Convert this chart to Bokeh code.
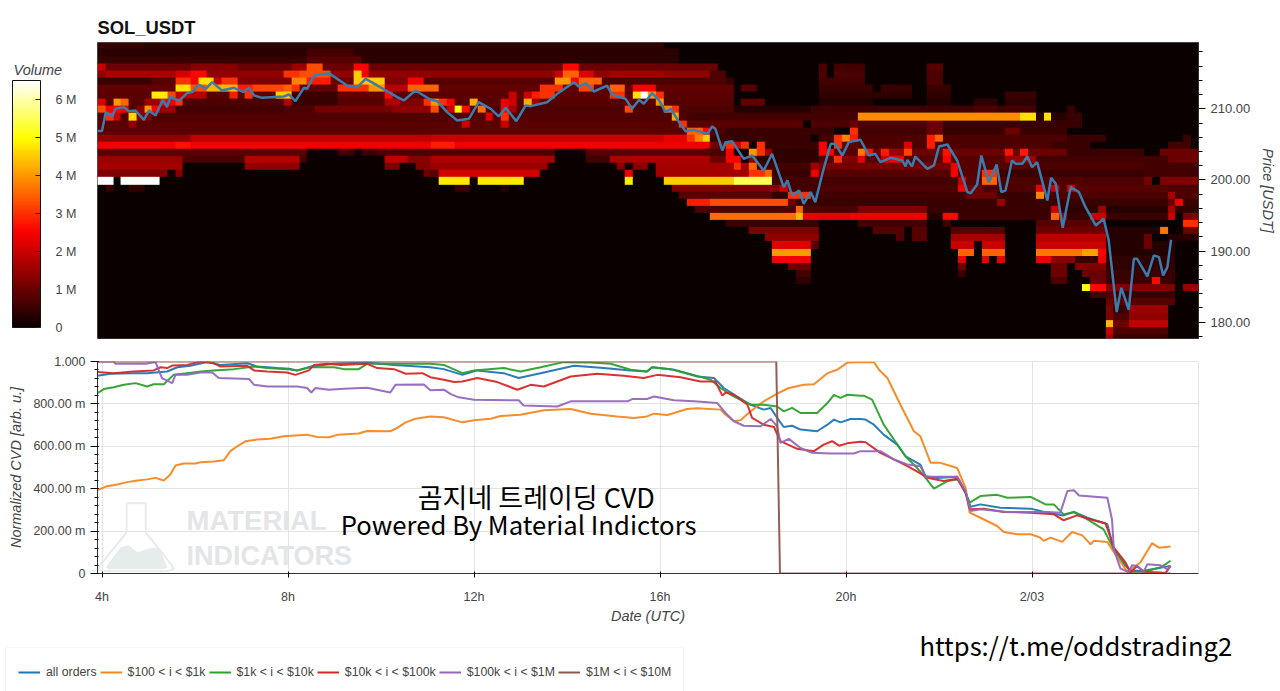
from bokeh.plotting import figure
from bokeh.layouts import column, row
from bokeh.models import (LinearColorMapper, ColorBar, FixedTicker, Legend, LegendItem,
                          Label, NumeralTickFormatter, Range1d)
from bokeh.embed import file_html
from bokeh.resources import INLINE
import numpy as np

title_text = "SOL_USDT"
series_names = ["all orders", "$100 < i < $1k", "$1k < i < $10k", "$10k < i < $100k", "$100k < i < $1M", "$1M < i < $10M"]
series_colors = ["#1f77b4", "#f5871f", "#2ca02c", "#d62728", "#9467bd", "#8c564b"]

# Heat map: 10 minute columns, $1 rows counted from the top. Each entry: (first col, end col, volume in M)
heat_rows = {
 0: [(0,73,.4),(0,6,.5)],
 1: [(0,75,.35),(27,33,.6)],
 2: [(0,75,.35),(0,27,.5),(27,34,.8)],
 3: [(0,80,1.0),(0,1,2.0),(12,18,1.3),(25,27,1.5),(27,29,3.3),(33,35,2.5),(60,62,2.6),(93,94,.7),(95,99,.6),(107,109,.8)],
 4: [(0,79,1.4),(79,81,.7),(1,10,1.7),(10,12,2.1),(12,14,2.6),(24,26,3),(26,30,3.3),(33,34,4.5),(34,35,2.5),(59,60,2),(60,62,3.5),(62,64,2.2),(66,73,1.6),(93,94,.7),(95,99,.7),(107,109,.7)],
 5: [(0,7,.5),(7,10,.8),(10,12,3),(12,13,2.5),(13,15,4.7),(15,16,2),(16,18,3),(18,25,1.2),(25,27,3.8),(27,30,2.8),(30,33,1),(33,37,4.5),(37,40,1.2),(40,42,2.5),(42,59,.8),(59,61,4),(61,62,2.5),(62,65,3.5),(65,81,.7),(81,82,.5),(93,99,.6),(107,109,.7)],
 6: [(0,82,.9),(10,12,4.7),(12,14,3.3),(14,18,4.3),(18,20,2.8),(20,24,3.2),(24,25,3.5),(25,26,3),(31,35,3),(35,37,4),(37,40,1.8),(40,44,3.5),(57,60,3),(62,64,3.2),(66,68,3.5),(69,72,2.5),(83,85,.8),(93,100,.5),(101,105,.5),(107,110,.5)],
 7: [(0,82,.85),(7,9,4.8),(9,10,3.2),(10,14,1.8),(14,17,.8),(17,18,2.8),(19,20,3),(23,25,4.5),(25,31,.5),(31,37,.9),(37,38,2.6),(53,54,2),(55,56,2),(56,57,2.8),(57,59,3),(66,68,3),(69,70,4.7),(70,71,6.5),(71,72,4),(72,73,3),(93,105,.4),(107,110,.4),(117,121,.5)],
 8: [(0,82,.8),(0,1,2.2),(2,3,4),(3,4,3.5),(6,8,1.5),(8,10,2.4),(10,11,3),(11,24,.7),(24,25,1.8),(25,31,.5),(37,39,1.7),(39,43,1.2),(42,43,3),(43,44,4),(44,45,3),(45,46,2.5),(48,49,4.2),(52,53,2.3),(53,54,2),(55,56,4.2),(56,57,1.6),(68,69,1),(72,73,4),(83,86,.9),(93,100,.3),(107,110,.3),(113,116,.4),(117,121,.4)],
 9: [(0,82,.7),(0,1,3.3),(1,4,2.5),(5,6,1.3),(6,7,4),(7,8,2.5),(8,10,1.5),(10,24,.6),(28,38,1.1),(38,43,1.4),(43,44,3.3),(45,46,2),(46,47,5),(47,48,2.6),(49,50,3.6),(52,53,2.4),(53,54,1.6),(68,69,3.2),(73,74,3.8),(74,75,3),(82,92,.3),(92,121,.55),(113,116,.7),(117,121,.6),(125,126,.5)],
 10: [(0,92,.75),(1,2,3),(2,3,2),(4,5,4.6),(5,7,1.3),(50,51,2.2),(52,53,3),(74,75,4.2),(76,92,.6),(92,98,.6),(98,119,3.9),(119,121,4.7),(121,122,.4),(122,123,4.7),(123,125,.3),(125,127,.5)],
 11: [(0,91,.85),(4,5,1.4),(47,48,2),(52,53,2),(75,76,3),(92,100,.7),(97,98,1),(98,107,.7),(107,109,1),(109,125,.5),(125,127,.5)],
 12: [(0,81,.85),(76,78,3.5),(78,79,2.6),(79,81,.7),(81,95,.5),(97,98,3),(98,107,.6),(107,109,1),(109,125,.5),(117,119,1)],
 13: [(0,12,1.4),(12,43,1.9),(43,73,2),(73,76,2.3),(76,77,3),(77,78,3.8),(78,79,4.5),(79,92,.5),(93,95,.6),(95,96,3),(96,97,3.8),(97,98,2.8),(98,107,.7),(107,108,2.8),(108,109,3.5),(109,125,.7),(125,130,.5),(140,141,.5)],
 14: [(0,79,2.4),(10,12,2.7),(43,46,2.8),(79,81,1),(81,82,3),(82,83,2),(83,84,3),(85,86,3),(86,93,.5),(93,94,2.5),(95,96,3),(96,98,.9),(98,125,.7),(104,105,2.2),(107,108,2.8),(123,128,.5),(138,141,.6)],
 15: [(0,27,.85),(27,31,.1),(31,33,.6),(33,34,.1),(34,36,.5),(36,59,.7),(59,63,.1),(63,79,.8),(79,81,.7),(81,82,2.5),(84,85,4),(85,86,3),(86,87,1.5),(87,93,.4),(93,95,2.5),(95,98,.8),(98,99,3.7),(99,100,2.7),(100,125,1),(101,102,2.8),(102,104,1.5),(104,105,3.2),(109,110,2.7),(117,118,2.7),(119,120,2.8),(125,135,.5),(137,142,1)],
 16: [(0,11,1.5),(11,19,.7),(19,26,1.8),(26,27,.6),(37,40,1.9),(40,43,1.3),(43,59,1.7),(63,66,.6),(66,79,1.7),(79,81,1),(81,83,2.5),(84,85,1.4),(85,93,.4),(93,95,.8),(95,96,3),(96,98,1.2),(98,99,2.3),(99,101,.8),(101,102,2),(102,104,2.4),(104,117,.8),(109,110,2.5),(117,121,1.5),(121,138,.6),(138,142,1)],
 17: [(0,11,1.6),(19,26,1.4),(37,39,1.2),(41,43,1.3),(43,58,1.5),(67,68,1.3),(69,71,1.3),(72,84,1.6),(82,83,3),(84,85,3.5),(85,92,.6),(92,93,1.6),(93,110,1.1),(110,111,2.4),(111,121,.8),(121,135,.7),(135,142,.6)],
 18: [(0,9,1.2),(10,11,1.3),(42,43,1),(43,44,.8),(44,57,2.1),(68,69,2.3),(72,84,1.6),(84,86,3),(86,87,3.5),(87,92,.5),(92,93,2.4),(93,110,.8),(110,111,2.5),(111,114,.8),(114,116,3),(116,135,.5),(135,142,.6)],
 19: [(0,2,6.5),(3,8,6.5),(44,48,4.8),(49,55,4.8),(68,69,4.8),(73,82,4.5),(82,87,5.5),(87,111,.6),(111,112,2),(112,114,.8),(114,116,3.5),(116,135,.7),(126,127,.8),(135,136,1.1),(137,142,1.2)],
 20: [(1,2,.5),(4,6,.4),(46,48,.5),(52,53,.3),(74,88,1.2),(88,89,2),(89,93,.6),(93,111,.7),(111,112,2.4),(112,114,1),(114,121,.7),(121,122,2.3),(122,123,.7),(123,124,2),(124,125,.7),(125,126,2),(126,138,.8),(138,142,.7)],
 21: [(75,87,.8),(87,89,.4),(89,91,3),(91,92,3),(92,112,.6),(112,116,1),(116,121,.5),(121,122,3.8),(122,138,.7),(138,139,1.6),(139,142,.7)],
 22: [(76,79,2.8),(79,89,3.3),(89,90,1),(90,116,.5),(116,117,1.5),(117,138,.5),(138,139,1),(139,140,2.4),(140,142,.5)],
 23: [(77,90,.7),(90,91,3.5),(91,98,.7),(98,107,1.2),(107,123,.5),(123,124,2),(124,129,.4),(129,130,1.5),(130,138,.3),(138,139,1.7),(139,142,.4)],
 24: [(79,90,3.6),(90,91,4.3),(91,97,2.3),(97,107,2.4),(107,109,.3),(109,111,2.6),(111,123,.5),(123,124,3.5),(124,125,1.4),(125,128,.5),(128,130,2),(130,138,.5),(138,139,2),(140,142,1.2)],
 25: [(81,93,.5),(98,107,.6),(109,110,.6),(121,130,.8),(140,142,3)],
 26: [(84,93,1.2),(100,103,.8),(103,104,.8),(105,107,.8),(110,117,.8),(121,130,1),(130,137,.3),(137,138,3.7),(140,142,1)],
 27: [(86,93,1.4),(103,104,.8),(105,107,.8),(110,117,1.6),(121,130,1.8),(130,135,.3),(135,136,1),(138,142,.3)],
 28: [(87,92,2.2),(92,93,.8),(110,113,2),(114,117,2),(121,130,2),(130,139,.3),(135,136,1)],
 29: [(87,92,4),(111,113,3.5),(114,117,3.5),(121,127,3.7),(127,129,4.1),(129,130,2.5),(130,139,.3)],
 30: [(87,92,2.4),(111,112,2.3),(114,115,2.3),(116,117,2.3),(121,123,2.3),(123,126,1.3),(126,129,.5),(129,130,2.4),(130,139,.4)],
 31: [(89,92,1),(111,112,1),(123,125,1),(126,130,1.2),(130,139,.4)],
 32: [(90,92,.6),(111,112,.5),(123,125,1),(127,130,1),(130,139,.5)],
 33: [(90,92,.4),(123,125,.7),(128,130,1),(130,139,.5),(136,137,2.6)],
 34: [(127,128,5),(128,130,2.6),(130,139,1.2),(140,142,1.5)],
 35: [(128,130,.6),(130,131,.7),(131,139,.5)],
 36: [(130,131,1),(131,139,.8)],
 37: [(130,131,1.2),(131,133,.5),(133,138,1.5)],
 38: [(130,131,1.2),(131,133,.7),(133,138,1.4)],
 39: [(130,131,4.3),(131,133,1),(133,138,1.9)],
 40: [(130,131,2),(131,138,.7)],
 41: [(130,131,1.6),(131,138,.5)],
}

price_hours = [3.90,4.00,4.08,4.22,4.29,4.47,4.58,4.72,4.90,5.01,5.15,5.31,5.40,5.47,5.65,5.83,5.94,6.08,6.23,6.37,6.58,6.84,7.05,7.16,7.27,7.44,7.91,8.02,8.16,8.34,8.41,8.56,8.88,9.06,9.27,9.49,9.67,9.92,10.35,10.49,10.74,11.06,
 11.21,11.42,11.64,11.89,12.10,12.36,12.53,12.68,12.91,13.11,13.22,13.57,13.79,14.15,14.25,14.40,14.58,14.86,14.97,15.26,15.40,15.55,15.65,15.83,15.98,16.12,16.23,16.41,16.55,16.73,17.02,17.12,17.19,17.34,17.41,17.55,17.80,17.98,18.23,18.41,18.66,18.74,18.84,18.99,19.09,19.24,19.34,19.49,19.67,19.77,19.92,20.06,20.31,
 20.49,20.63,20.74,20.96,21.21,21.28,21.32,21.42,21.49,21.75,21.89,22.0,22.18,22.39,22.61,22.68,22.82,22.91,23.07,23.24,23.34,23.43,23.57,23.65,23.79,23.90,24.0,24.11,24.33,24.41,24.51,24.66,24.83,25.01,25.15,25.37,25.54,25.65,25.82,25.92,26.08,26.19,26.26,26.48,26.62,26.73,26.82,26.91,26.99]
price_values = [206.86,206.86,209.53,208.92,210.0,210.23,209.67,209.76,208.45,209.76,209.06,211.26,210.23,211.73,211.07,212.2,212.34,213.42,212.81,213.75,212.57,212.95,212.34,212.95,211.87,211.54,211.73,212.01,211.07,212.95,212.81,214.68,215.01,214.21,213.28,213.04,214.21,213.28,211.64,211.17,212.57,211.3,
 211.07,209.53,208.35,208.59,210.93,209.99,208.92,210.13,208.26,210.46,210.37,210.93,212.1,213.74,213.13,213.6,212.43,213.27,212.01,211.4,209.99,211.26,210.7,212.2,211.17,209.53,209.99,208.12,206.85,207.04,206.48,207.51,207.18,204.14,205.31,205.45,202.96,203.43,201.32,203.67,198.98,199.92,197.81,198.51,196.64,198.28,196.87,200.86,205.07,205.07,203.43,205.31,205.65,
 203.43,203.67,202.5,203.11,202.73,201.89,202.82,201.89,203.29,201.56,202.03,204.7,204.98,202.73,198.28,198.14,199.36,203.43,199.68,202.17,198.28,198.51,202.73,202.26,202.26,203.29,201.79,202.5,197.11,200.29,199.45,193.26,198.98,198.28,196.17,193.6,194.53,191.48,181.41,184.83,181.74,188.91,188.91,186.42,189.38,189.14,186.56,187.73,191.58]

orange_hours = [3.90,4.11,4.33,4.54,4.76,4.97,5.15,5.33,5.47,5.58,5.76,6.01,6.12,6.40,6.62,6.76,6.91,7.09,7.34,7.62,7.91,8.41,8.63,8.88,9.06,9.52,9.70,10.20,10.35,10.53,10.74,11.06,11.35,11.75,12.0,12.36,12.57,13.0,13.50,14.08,14.51,15.08,15.44,15.72,15.87,16.16,16.58,16.80,17.30,17.41,17.59,17.73,17.95,18.23,18.52,18.77,19.09,19.31,19.60,19.81,20.03,20.31,20.6,20.71,20.89,21.17,21.46,21.6,21.82,22.03,22.39,22.57,22.66,22.89,23.25,23.39,23.68,23.97,24.18,24.25,24.40,24.65,24.86,25.08,25.26,25.33,25.62,25.72,26.05,26.33,26.58,26.73,26.98]
orange_values = [.393,.412,.420,.431,.439,.444,.451,.439,.467,.509,.519,.519,.525,.528,.534,.577,.600,.624,.632,.636,.647,.655,.644,.643,.654,.660,.672,.671,.687,.713,.730,.741,.737,.713,.723,.730,.743,.749,.770,.776,.754,.741,.734,.741,.754,.748,.776,.779,.773,.749,.718,.723,.765,.812,.848,.875,.890,.893,.945,.961,.995,.997,.997,.961,.922,.796,.671,.647,.522,.522,.498,.404,.287,.263,.224,.196,.185,.185,.169,.154,.169,.149,.196,.180,.138,.154,.149,.114,.008,.052,.143,.122,.127]

green_hours = [3.90,4.04,4.25,4.47,4.72,4.97,5.11,5.33,5.54,5.83,6.12,6.40,6.84,7.27,7.55,7.98,8.20,8.48,8.99,9.20,9.52,9.70,10.28,11.06,11.35,11.75,12.0,12.64,13.0,13.43,13.93,14.51,14.94,15.37,15.72,15.83,16.23,16.58,17.09,17.30,17.52,17.95,18.23,18.52,18.66,18.84,19.02,19.38,19.60,19.74,19.88,20.03,20.31,20.38,20.56,20.81,21.03,21.28,21.53,21.71,21.89,22.18,22.43,22.57,22.66,22.89,23.25,23.47,23.97,24.29,24.47,24.68,24.90,25.19,25.54,25.76,25.98,26.12,26.40,26.76,26.98]
green_values = [.851,.870,.879,.890,.898,.882,.893,.893,.937,.945,.953,.958,.964,.976,.969,.964,.958,.973,.973,.964,.964,.989,.989,.989,.984,.945,.958,.969,.953,.973,.997,.995,.989,.961,.953,.973,.964,.945,.914,.875,.843,.796,.796,.788,.765,.781,.757,.757,.804,.843,.828,.843,.839,.839,.820,.702,.632,.553,.498,.451,.400,.436,.444,.381,.334,.365,.371,.357,.361,.326,.326,.279,.290,.255,.208,.114,.052,.008,.008,.028,.060]

blue_hours = [3.90,4.18,4.68,4.97,5.40,5.62,5.90,6.26,6.55,7.12,7.34,7.77,8.02,8.20,8.48,8.99,9.70,10.28,11.06,11.35,11.75,12.07,12.64,12.96,13.43,14.15,14.79,15.37,15.72,15.83,16.30,16.80,17.16,17.37,17.66,17.95,18.23,18.38,18.52,18.66,18.84,19.02,19.38,19.60,19.74,19.88,20.10,20.31,20.42,20.6,20.81,21.10,21.28,21.6,21.71,21.96,22.39,22.57,22.68,22.89,23.32,23.97,24.33,24.68,24.90,25.19,25.62,25.76,25.98,26.12,26.40,26.98]
blue_values = [.933,.942,.945,.945,.953,.973,.980,.997,.984,.992,.976,.969,.966,.958,.976,.989,.995,.984,.973,.964,.937,.958,.945,.922,.945,.980,.969,.958,.953,.973,.961,.929,.922,.875,.835,.796,.773,.781,.734,.691,.697,.679,.671,.702,.726,.713,.729,.729,.726,.702,.655,.608,.553,.514,.459,.451,.456,.381,.315,.326,.310,.306,.287,.274,.290,.263,.232,.114,.044,.013,.013,.036]

red_hours = [3.90,4.25,4.68,5.11,5.26,5.40,5.51,5.83,6.12,6.40,6.55,7.12,7.27,7.55,7.98,8.16,8.45,8.56,8.84,9.13,9.70,9.92,10.28,10.53,10.89,11.06,11.35,11.57,11.75,12.07,12.50,12.93,13.22,13.50,14.08,14.65,15.22,15.65,15.94,16.44,16.87,17.19,17.34,17.41,17.59,17.88,17.98,18.23,18.45,18.59,18.95,19.31,19.52,19.70,19.85,20.06,20.31,20.42,20.74,21.03,21.32,21.6,21.75,22.10,22.39,22.57,22.66,22.96,23.39,23.97,24.47,24.68,24.97,25.26,25.58,25.76,26.01,26.12,26.26,26.40,26.76,26.87,26.98]
red_values = [.950,.945,.953,.958,.973,.969,.981,.984,1.0,.992,.976,.980,.958,.953,.948,.937,.958,.984,.989,.983,.989,.969,.964,.942,.945,.926,.914,.903,.906,.922,.903,.867,.890,.882,.929,.942,.933,.922,.937,.926,.906,.906,.839,.854,.843,.796,.734,.702,.691,.624,.588,.577,.608,.624,.603,.616,.622,.619,.569,.538,.506,.472,.451,.436,.447,.381,.303,.306,.290,.287,.279,.251,.274,.255,.237,.122,.052,.005,.036,.008,.005,.002,.036]

purple_hours = [3.90,4.25,4.29,4.94,5.15,5.29,5.51,5.58,5.83,6.12,6.37,6.51,7.16,7.27,7.55,8.20,8.41,8.50,8.59,8.88,9.20,9.70,10.20,10.31,10.92,11.06,11.35,11.50,11.67,12.0,12.96,13.07,13.79,14.08,15.30,15.40,15.72,15.87,16.30,16.73,17.23,17.41,17.59,17.80,18.16,18.38,18.52,18.59,18.77,19.02,19.27,19.67,20.17,20.31,20.74,21.03,21.32,21.6,21.71,22.39,22.57,22.68,22.89,23.47,24.04,24.36,24.61,24.76,24.90,25.01,25.62,25.72,25.76,25.90,26.08,26.15,26.26,26.40,26.48,26.76,26.91,26.98]
purple_values = [1.0,1.0,.989,.989,.997,.922,.898,.937,.937,.948,.948,.922,.918,.890,.882,.882,.875,.854,.875,.867,.871,.876,.854,.890,.892,.864,.867,.846,.831,.820,.817,.792,.788,.812,.812,.823,.823,.835,.817,.812,.804,.757,.718,.697,.694,.729,.694,.616,.635,.592,.569,.566,.566,.577,.577,.538,.514,.506,.456,.456,.389,.295,.303,.290,.290,.290,.287,.389,.393,.368,.357,.255,.114,.024,.005,.039,.036,.008,.044,.039,.020,.036]

brown_hours = [3.90,18.50,18.58,26.98]
brown_values = [1.0,1.0,0.0,0.0]

volume_ticks = [0,1000000,2000000,3000000,4000000,5000000,6000000]
volume_labels = ["0","1 M","2 M","3 M","4 M","5 M","6 M"]
price_ticks = [180,190,200,210]
price_minor = [178,182,184,186,188,192,194,196,198,202,204,206,208,212,214,216,218]
time_ticks = [4,8,12,16,20,24]
time_labels = ["4h","8h","12h","16h","20h","2/03"]
cvd_ticks = [0,.2,.4,.6,.8,1.0]
cvd_labels = ["0","200.00 m","400.00 m","600.00 m","800.00 m","1.000"]

# flask of the watermark
flask_hours = [4.53,4.94,4.94,5.50,5.54,5.40,4.05,3.92,3.96,4.53,4.53]
flask_values = [.331,.331,.194,.040,.020,.011,.011,.020,.040,.194,.331]
liquid_hours = [4.08,4.40,4.57,4.76,5.04,5.22,5.41,5.32,4.14]
liquid_values = [.029,.124,.133,.100,.119,.124,.029,.020,.020]

HOUR_MIN, HOUR_MAX = 3.903, 27.58
FONT = "Liberation Sans"
TICK = "#444444"

def hot(n=256):
    out = []
    for i in range(n):
        t = i / (n - 1)
        r = min(1.0, 0.0416 + t / 0.39 * (1 - 0.0416))
        g = min(1.0, max(0.0, (t - 0.39) / 0.38))
        b = min(1.0, max(0.0, (t - 0.77) / 0.23))
        out.append("#%02x%02x%02x" % (int(r * 255), int(g * 255), int(b * 255)))
    return out

grid = np.zeros((42, 142))
for r_i, segments in heat_rows.items():
    for start, end, val in segments:
        grid[r_i, start:end] = val * 1e6

mapper = LinearColorMapper(palette=hot(), low=0, high=6.5e6)

# strip left of the heat map: colour bar and its title
p0 = figure(width=97, height=349, output_backend="svg", toolbar_location=None,
            x_range=Range1d(0, 97), y_range=Range1d(0, 349),
            x_axis_location=None, y_axis_location=None,
            min_border_left=0, min_border_right=0, min_border_top=0, min_border_bottom=0, margin=0)
p0.frame_align = False
p0.grid.visible = False
p0.outline_line_color = None
cb = ColorBar(color_mapper=mapper, ticker=FixedTicker(ticks=volume_ticks),
              major_label_overrides=dict(zip(volume_ticks, volume_labels)),
              width=28, height=247, location=(12, 22), padding=0,
              major_label_text_font=FONT, major_label_text_font_size="12.5px", major_label_text_color=TICK,
              major_tick_line_color="#222222", major_tick_in=5, major_tick_out=0, minor_tick_line_color=None,
              bar_line_color="#111111", label_standoff=15, background_fill_color=None, border_line_color=None)
p0.add_layout(cb, "center")
p0.add_layout(Label(x=13, y=280, text="Volume", text_font=FONT, text_font_size="14.5px", text_font_style="italic",
                    text_color=TICK, text_baseline="middle"))

p1 = figure(width=1183, height=349, output_backend="svg", toolbar_location=None,
            x_range=Range1d(HOUR_MIN, HOUR_MAX), y_range=Range1d(177.7, 219.32),
            x_axis_location=None, y_axis_location="right",
            min_border_left=0, min_border_right=82, min_border_top=42, min_border_bottom=11,
            background_fill_color="#0a0000", margin=0)
p1.frame_align = False
p1.title.text = title_text
p1.title.text_font = FONT
p1.title.text_font_size = "18.4px"
p1.title.text_font_style = "bold"
p1.title.text_color = "#111111"
p1.title.offset = 0
p1.title.standoff = 10
p1.grid.visible = False
p1.outline_line_color = "#555555"
p1.image(image=[grid[::-1]], x=HOUR_MIN, y=219.32 - 42, dw=142 / 6, dh=42, color_mapper=mapper)
p1.line(price_hours, price_values, line_color="#3b7cae", line_width=2.5)

ay = p1.yaxis[0]
ay.ticker = FixedTicker(ticks=price_ticks, minor_ticks=price_minor)
ay.formatter = NumeralTickFormatter(format="0.00")
ay.axis_label = "Price [USDT]"
ay.axis_label_text_font = FONT
ay.axis_label_text_font_size = "14.5px"
ay.axis_label_text_font_style = "italic"
ay.axis_label_text_color = TICK
ay.axis_label_standoff = 7
ay.major_label_text_font = FONT
ay.major_label_text_font_size = "13px"
ay.major_label_text_color = TICK
ay.major_tick_out = 7
ay.major_tick_in = 0
ay.minor_tick_out = 4
ay.minor_tick_in = 0
ay.axis_line_color = "#333333"

p2 = figure(width=1280, height=277, output_backend="svg", toolbar_location=None,
            x_range=Range1d(HOUR_MIN, HOUR_MAX), y_range=Range1d(0, 1),
            min_border_left=97, min_border_right=82, min_border_top=12, min_border_bottom=52, margin=0)
p2.frame_align = False
p2.outline_line_color = "#e6e6e6"
p2.grid.grid_line_color = "#e4e4e4"

p2.patch(liquid_hours, liquid_values, fill_color="#e6ecec", line_color=None)
p2.line(flask_hours, flask_values, line_color="#e9ebeb", line_width=2)

series = [(blue_hours, blue_values), (orange_hours, orange_values), (green_hours, green_values),
          (red_hours, red_values), (purple_hours, purple_values), (brown_hours, brown_values)]
for (xs, ys), color in zip(series, series_colors):
    p2.line(xs, ys, line_color=color, line_width=2, line_alpha=0.95)

ax = p2.xaxis[0]
ax.ticker = FixedTicker(ticks=time_ticks)
ax.major_label_overrides = dict(zip(time_ticks, time_labels))
ax.axis_label = "Date (UTC)"
ax.axis_label_standoff = 1
ax.major_label_standoff = 12
ax.major_tick_out = 4
ax.major_tick_in = 2
ax.minor_tick_line_color = None
ay2 = p2.yaxis[0]
ay2.ticker = FixedTicker(ticks=cvd_ticks, minor_ticks=[round(i * 0.04, 2) for i in range(26)])
ay2.major_label_overrides = dict(zip(cvd_ticks, cvd_labels))
ay2.axis_label = "Normalized CVD [arb. u.]"
ay2.major_tick_out = 7
ay2.major_tick_in = 1
ay2.minor_tick_out = 3
ay2.minor_tick_in = 1
ay2.axis_label_standoff = 6
for a in (ax, ay2):
    a.axis_label_text_font = FONT
    a.axis_label_text_font_size = "14.5px"
    a.axis_label_text_font_style = "italic"
    a.axis_label_text_color = TICK
    a.major_label_text_font = FONT
    a.major_label_text_font_size = "12.5px"
    a.major_label_text_color = TICK
    a.axis_line_color = "#333333"

wm_x = 4.0 + 84.5 / 46.5
p2.add_layout(Label(x=wm_x, y=.25, text="MATERIAL", text_font=FONT, text_font_size="27.5px",
                    text_font_style="bold", text_color="#e3e5e6", text_baseline="middle"))
p2.add_layout(Label(x=wm_x, y=.081, text="INDICATORS", text_font=FONT, text_font_size="27px",
                    text_font_style="bold", text_color="#e3e5e6", text_baseline="middle"))
p2.add_layout(Label(x=13.34, y=.365, text="곰지네 트레이딩 CVD", text_font="Noto Sans CJK KR", text_font_size="27px",
                    text_color="#000000", text_align="center", text_baseline="middle"))
p2.add_layout(Label(x=12.96, y=.235, text="Powered By Material Indictors", text_font="Noto Sans CJK KR", text_font_size="25.7px",
                    text_color="#000000", text_align="center", text_baseline="middle"))

# footer: legend and link, on a plot whose frame is the whole strip
p3 = figure(width=1280, height=65, output_backend="svg", toolbar_location=None,
            x_range=Range1d(0, 1280), y_range=Range1d(0, 65),
            x_axis_location=None, y_axis_location=None,
            min_border_left=0, min_border_right=0, min_border_top=0, min_border_bottom=0, margin=0)
p3.frame_align = False
p3.grid.visible = False
p3.outline_line_color = None
keys = [p3.line([-9, -8], [-9, -8], line_color=c, line_width=2) for c in series_colors]
legend = Legend(items=[LegendItem(label=n, renderers=[r]) for n, r in zip(series_names, keys)],
                orientation="horizontal", location=(5, -6), padding=12, spacing=3, margin=0,
                label_standoff=6, glyph_width=22, glyph_height=20, label_height=24,
                label_text_font=FONT, label_text_font_size="12.3px", label_text_color=TICK,
                border_line_color="#eeeeee", background_fill_alpha=0)
p3.add_layout(legend, "center")
p3.add_layout(Label(x=919, y=47, text="https://t.me/oddstrading2", text_font="Noto Sans CJK KR", text_font_size="25.6px",
                    text_color="#000000", text_baseline="middle"))

page = column(row(p0, p1, spacing=0), p2, p3, spacing=0)
open("out.html", "w").write(file_html(page, INLINE))
